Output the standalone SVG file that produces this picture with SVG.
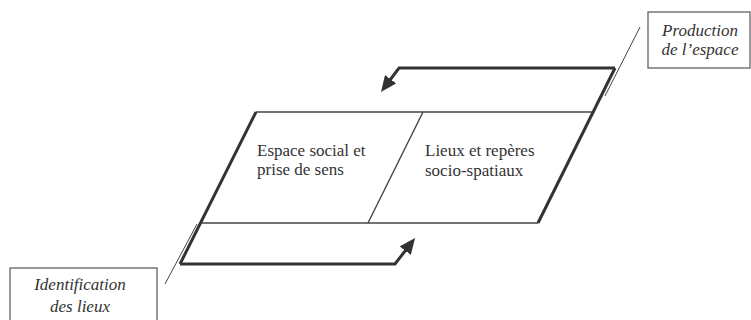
<svg xmlns="http://www.w3.org/2000/svg" width="751" height="320" viewBox="0 0 751 320">
<style>
.edge{fill:none;stroke:#444;stroke-width:1.4}
.thick{fill:none;stroke:#333;stroke-width:3}
.thin{fill:none;stroke:#444;stroke-width:1}
.arrow{fill:none;stroke:#333;stroke-width:3;stroke-linejoin:miter}
.box{fill:#fff;stroke:#555;stroke-width:1.2}
</style>
<defs>
<marker id="ah" viewBox="0 0 16 14" refX="11" refY="7" markerWidth="16" markerHeight="14" markerUnits="userSpaceOnUse" orient="auto">
<path d="M0,0 L16,7 L0,14 z" fill="#333"/>
</marker>
</defs>
<g id="connectors">
<line class="edge" x1="256" y1="112" x2="592" y2="112"/>
<line class="edge" x1="202" y1="223" x2="538" y2="223"/>
<line class="edge" x1="423" y1="112" x2="368" y2="223"/>
<line class="thick" x1="256" y1="112" x2="180" y2="264"/>
<line class="thick" x1="538" y1="223" x2="615" y2="68"/>
<line class="thin" x1="165" y1="284" x2="197" y2="224"/>
<line class="thin" x1="605" y1="96" x2="640" y2="27"/>
<path class="arrow" d="M615,68 L399,68 L384,88" marker-end="url(#ah)"/>
<path class="arrow" d="M180,264 L395,264 L412,242" marker-end="url(#ah)"/>
</g>
<g id="espace-social">
<text x="257" y="156" font-family="Liberation Serif" font-size="17" fill="#333">Espace social et</text>
<text x="257" y="175" font-family="Liberation Serif" font-size="17" fill="#333">prise de sens</text>
</g>
<g id="lieux-reperes">
<text x="425" y="156" font-family="Liberation Serif" font-size="17" fill="#333">Lieux et repères</text>
<text x="425" y="176" font-family="Liberation Serif" font-size="17" fill="#333">socio-spatiaux</text>
</g>
<g id="production">
<rect class="box" x="648" y="12" width="102" height="56"/>
<text x="700" y="36" font-family="Liberation Serif" font-size="17" font-style="italic" text-anchor="middle" fill="#333">Production</text>
<text x="700" y="55" font-family="Liberation Serif" font-size="17" font-style="italic" text-anchor="middle" fill="#333">de l’espace</text>
</g>
<g id="identification">
<rect class="box" x="10" y="268" width="147" height="60"/>
<text x="80" y="290" font-family="Liberation Serif" font-size="17" font-style="italic" text-anchor="middle" fill="#333">Identification</text>
<text x="80" y="312" font-family="Liberation Serif" font-size="17" font-style="italic" text-anchor="middle" fill="#333">des lieux</text>
</g>
</svg>
